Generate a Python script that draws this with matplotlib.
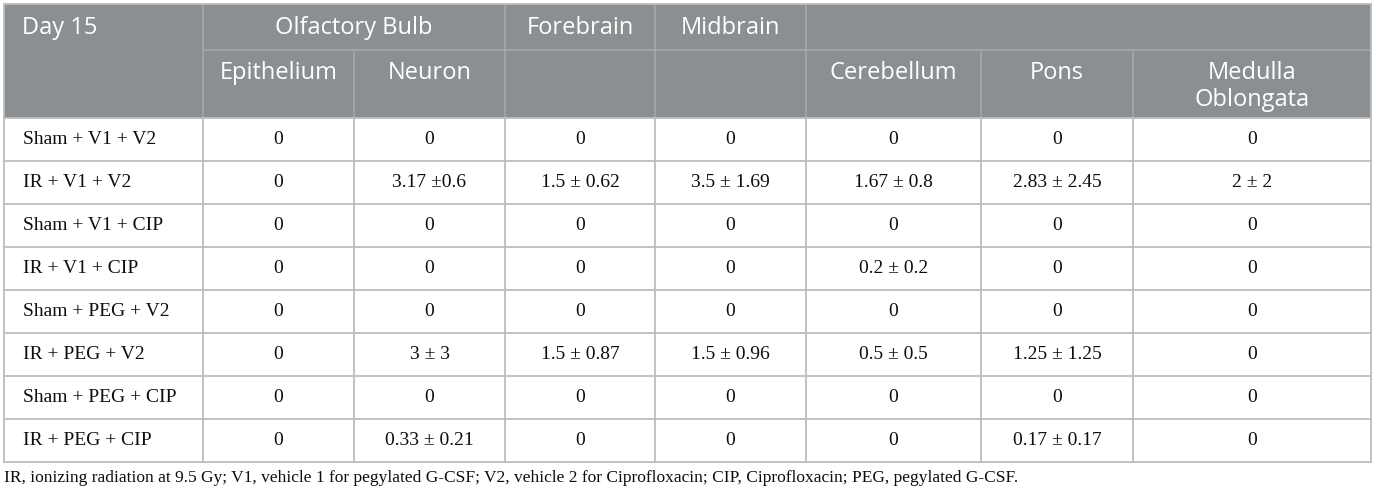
#!/usr/bin/env python3
"""Day 15 lesion score table rendered with matplotlib."""

import matplotlib
matplotlib.use("Agg")
import matplotlib.pyplot as plt
from matplotlib.patches import Rectangle

# --- table content -----------------------------------------------------------
corner_label = "Day 15"
group_labels = ["Olfactory Bulb", "Forebrain", "Midbrain", ""]
group_spans = [(1, 3), (3, 4), (4, 5), (5, 8)]  # column index ranges
sub_labels = ["Epithelium", "Neuron", "", "", "Cerebellum", "Pons", "Medulla\nOblongata"]

treatments = [
    "Sham + V1 + V2",
    "IR + V1 + V2",
    "Sham + V1 + CIP",
    "IR + V1 + CIP",
    "Sham + PEG + V2",
    "IR + PEG + V2",
    "Sham + PEG + CIP",
    "IR + PEG + CIP",
]

sham_v1_v2 = ["0", "0", "0", "0", "0", "0", "0"]
ir_v1_v2 = ["0", "3.17 \u00b10.6", "1.5 \u00b1 0.62", "3.5 \u00b1 1.69", "1.67 \u00b1 0.8", "2.83 \u00b1 2.45", "2 \u00b1 2"]
sham_v1_cip = ["0", "0", "0", "0", "0", "0", "0"]
ir_v1_cip = ["0", "0", "0", "0", "0.2 \u00b1 0.2", "0", "0"]
sham_peg_v2 = ["0", "0", "0", "0", "0", "0", "0"]
ir_peg_v2 = ["0", "3 \u00b1 3", "1.5 \u00b1 0.87", "1.5 \u00b1 0.96", "0.5 \u00b1 0.5", "1.25 \u00b1 1.25", "0"]
sham_peg_cip = ["0", "0", "0", "0", "0", "0", "0"]
ir_peg_cip = ["0", "0.33 \u00b1 0.21", "0", "0", "0", "0.17 \u00b1 0.17", "0"]

cells = [sham_v1_v2, ir_v1_v2, sham_v1_cip, ir_v1_cip,
         sham_peg_v2, ir_peg_v2, sham_peg_cip, ir_peg_cip]

footnote = ("IR, ionizing radiation at 9.5 Gy; V1, vehicle 1 for pegylated G-CSF; "
            "V2, vehicle 2 for Ciprofloxacin; CIP, Ciprofloxacin; PEG, pegylated G-CSF.")

# --- layout (pixels) ---------------------------------------------------------
W, H = 1376, 494
col_edges = [4, 203, 354, 505, 655, 806, 981, 1133, 1371]
top, mid, head_bottom = 4, 50, 118
row_h = 43

header_bg = "#8b8f91"
header_line = "#a5a8aa"
grid_line = "#bdbdbd"
text_color = "#0d0d0d"
header_font = ["Open Sans", "DejaVu Sans"]
body_font = ["Liberation Serif", "DejaVu Serif"]

fig = plt.figure(figsize=(W / 100, H / 100), dpi=100)
ax = fig.add_axes([0, 0, 1, 1])
ax.set_xlim(0, W)
ax.set_ylim(H, 0)
ax.axis("off")

left, right = col_edges[0], col_edges[-1]
bottom = head_bottom + row_h * len(treatments)

# header band
ax.add_patch(Rectangle((left, top), right - left, head_bottom - top,
                       facecolor=header_bg, edgecolor="none", zorder=1))

# header grid
ax.plot([col_edges[1], right], [mid, mid], color=header_line, lw=1.2, zorder=2)
for x in [col_edges[1], col_edges[3], col_edges[4], col_edges[5]]:
    ax.plot([x, x], [top, mid], color=header_line, lw=1.2, zorder=2)
for x in col_edges[1:-1]:
    ax.plot([x, x], [mid, head_bottom], color=header_line, lw=1.2, zorder=2)

# body grid
for i in range(len(treatments) + 1):
    y = head_bottom + i * row_h
    ax.plot([left, right], [y, y], color=grid_line, lw=1.3, zorder=2)
for x in col_edges:
    ax.plot([x, x], [head_bottom, bottom], color=grid_line, lw=1.3, zorder=2)
ax.plot([left, left], [top, head_bottom], color=grid_line, lw=1.3, zorder=2)
ax.plot([right, right], [top, head_bottom], color=grid_line, lw=1.3, zorder=2)
ax.plot([left, right], [top, top], color=grid_line, lw=1.3, zorder=2)

# header text
ax.text(22, 28, corner_label, ha="left", va="center", color="white",
        fontsize=17, family=header_font, zorder=3)
for label, (a, b) in zip(group_labels, group_spans):
    if label:
        ax.text((col_edges[a] + col_edges[b]) / 2, 28, label, ha="center",
                va="center", color="white", fontsize=17, family=header_font, zorder=3)
for j, label in enumerate(sub_labels):
    if label:
        ax.text((col_edges[j + 1] + col_edges[j + 2]) / 2, 61, label, ha="center",
                va="top", color="white", fontsize=17, family=header_font,
                linespacing=1.15, zorder=3)

# body text
for i, (name, row) in enumerate(zip(treatments, cells)):
    yc = head_bottom + (i + 0.5) * row_h
    ax.text(23, yc, name, ha="left", va="center", color=text_color,
            fontsize=14, family=body_font, zorder=3)
    for j, val in enumerate(row):
        ax.text((col_edges[j + 1] + col_edges[j + 2]) / 2, yc, val, ha="center",
                va="center", color=text_color, fontsize=14, family=body_font, zorder=3)

ax.text(4, 478, footnote, ha="left", va="center", color=text_color,
        fontsize=12.5, family=body_font)

fig.savefig("out.png", dpi=100)
